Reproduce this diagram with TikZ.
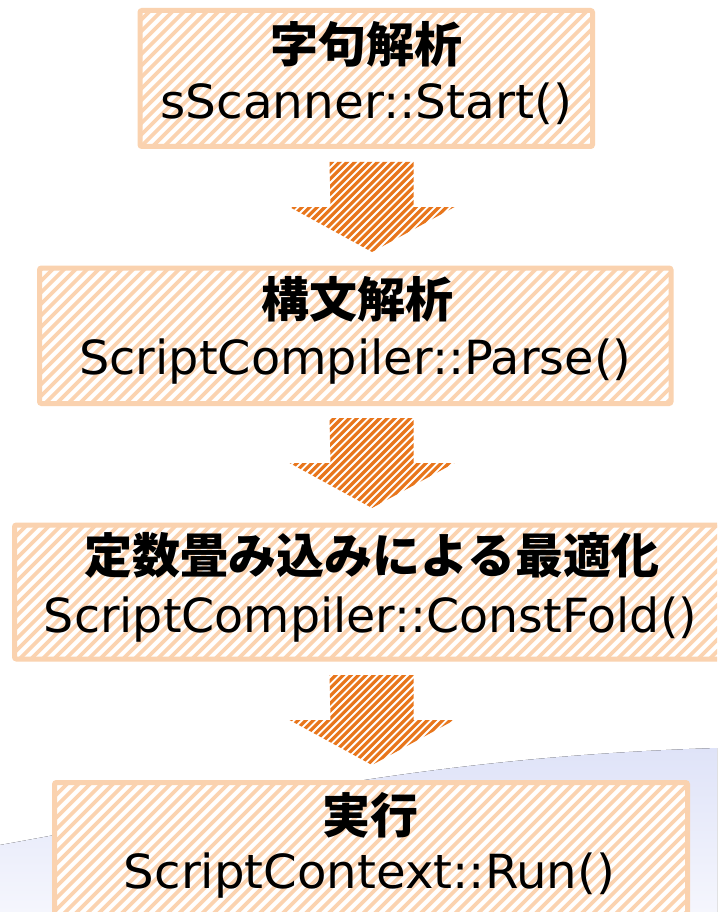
\documentclass[tikz,border=0pt]{standalone}
\usepackage{fontspec}
\usepackage{graphicx}
\setmainfont{DejaVu Sans}
\newfontfamily\jpfont{Noto Sans CJK JP}
\usetikzlibrary{calc}
\definecolor{peach}{HTML}{FBD3B0}
\definecolor{peachline}{HTML}{FAD2AF}
\definecolor{arrorange}{HTML}{E8761C}
\definecolor{bgA}{HTML}{DFE3F8}
\definecolor{bgB}{HTML}{F5F6FD}
\newcommand\hatchfill[4]{%
  \begin{scope}
    \clip #1;
    \foreach \c in {0,#3,...,1700} \draw[#2,line width=#4] (\c,0) -- ++(-1000,1000);
  \end{scope}}
\newcommand\blockarrow[1]{(#1) ++(-42,0) -- ++(84,0) -- ++(0,45) -- ++(41,0) -- ++(-82.5,45) -- ++(-82.5,-45) -- ++(41,0) -- cycle}
\tikzset{
  boxshape/.style={rectangle, fill=white, inner sep=0pt, outer sep=0pt},
  boxborder/.style={draw=peachline, line width=5pt, rounded corners=2pt},
  jptext/.style={inner sep=0pt, anchor=center, font=\jpfont\bfseries\fontsize{48}{56}\selectfont},
  lattext/.style={inner sep=0pt, anchor=base, font=\fontsize{47}{52}\selectfont},
}
\begin{document}
\begin{tikzpicture}[x=1pt,y=-1pt]
\useasboundingbox (0,0) rectangle (717,912);
\clip (0,0) rectangle (717,912);
\fill[white] (0,0) rectangle (717,912);
% background swoosh
\fill[top color=bgA, bottom color=bgB] (0,845) .. controls (250,800) and (430,757) .. (717,748) -- (717,912) -- (0,912) -- cycle;

% boxes
\node[boxshape, minimum width=452.5pt, minimum height=136pt] (b1) at (366.25,78.5) {};
\node[boxshape, minimum width=631.5pt, minimum height=135.5pt] (b2) at (355.25,335.75) {};
\node[boxshape, minimum width=713.5pt, minimum height=134pt] (b3) at (371.25,592) {};
\node[boxshape, minimum width=633pt, minimum height=135.5pt] (b4) at (371,850.25) {};
\foreach \b in {b1,b2,b3,b4}{
  \hatchfill{(\b.south west) rectangle (\b.north east)}{peach}{11.5}{3.6pt}
  \draw[boxborder] (\b.south west) rectangle (\b.north east);
}

% arrows
\coordinate (a1) at (371.5,162);
\coordinate (a2) at (371.5,418);
\coordinate (a3) at (371.5,675);
\foreach \a in {a1,a2,a3}{
  \fill[white] \blockarrow{\a};
  \hatchfill{\blockarrow{\a}}{arrorange}{7.6}{3.2pt}
}

% texts
\node[jptext] (t1) at (366.25,44) {字句解析};
\node[lattext] (s1) at (366.25,119) {\resizebox{412pt}{\height}{sScanner::Start()}};
\node[jptext] (t2) at (357,299.5) {構文解析};
\node[lattext] (s2) at (355.25,374) {\resizebox{552pt}{\height}{ScriptCompiler::Parse()}};
\node[jptext] (t3) at (372,555) {定数畳み込みによる最適化};
\node[lattext] (s3) at (370.5,632) {\resizebox{653pt}{\height}{ScriptCompiler::ConstFold()}};
\node[jptext] (t4) at (370.5,815) {実行};
\node[lattext] (s4) at (369.5,888) {\resizebox{491pt}{\height}{ScriptContext::Run()}};
\end{tikzpicture}
\end{document}
